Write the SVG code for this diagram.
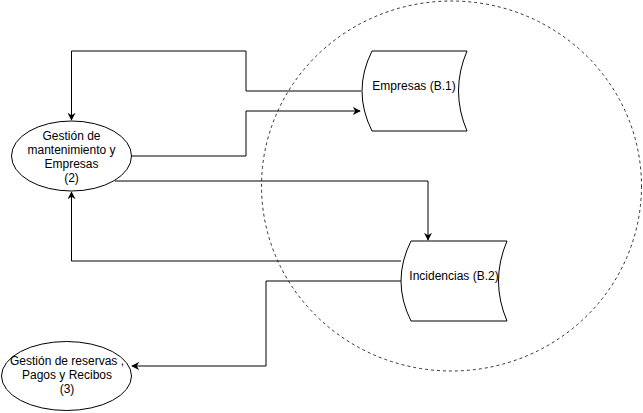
<svg xmlns="http://www.w3.org/2000/svg" width="643" height="413" viewBox="0 0 643 413">
  <style>
    .shape { fill: #ffffff; stroke: #000000; stroke-width: 1; }
    .edge { fill: none; stroke: #000000; stroke-width: 1; }
    .label { font-family: "Liberation Sans", Arial, Helvetica, sans-serif; font-size: 12px; fill: #000000; text-anchor: middle; }
  </style>
  <defs>
    <marker id="arrow" viewBox="0 0 10 10" refX="9" refY="5" markerWidth="8" markerHeight="8" markerUnits="userSpaceOnUse" orient="auto">
      <path d="M0,0 L10,5 L0,10 L3,5 Z" fill="#000000"/>
    </marker>
  </defs>
  <rect width="643" height="413" fill="#ffffff"/>

  <!-- dashed boundary -->
  <g id="boundary">
    <ellipse cx="451.5" cy="186" rx="190" ry="185" fill="none" stroke="#000000" stroke-width="0.8" stroke-dasharray="3 3"/>
  </g>

  <!-- connectors -->
  <g id="connectors">
    <path class="edge" d="M361,91 H246 V51 H71.5 V120" marker-end="url(#arrow)"/>
    <path class="edge" d="M131.5,156 H246 V111 H360" marker-end="url(#arrow)"/>
    <path class="edge" d="M115,181 H428 V240" marker-end="url(#arrow)"/>
    <path class="edge" d="M401,261 H71.5 V192" marker-end="url(#arrow)"/>
    <path class="edge" d="M401,281 H266 V366 H132" marker-end="url(#arrow)"/>
  </g>

  <g id="gestion-mantenimiento">
    <ellipse class="shape" cx="71.5" cy="156" rx="60" ry="35"/>
    <text class="label" x="71.5" y="140">Gestión de</text>
    <text class="label" x="71.5" y="154">mantenimiento y</text>
    <text class="label" x="71.5" y="168">Empresas</text>
    <text class="label" x="71.5" y="182">(2)</text>
  </g>

  <g id="gestion-reservas">
    <ellipse class="shape" cx="66.5" cy="376" rx="65" ry="34.5"/>
    <text class="label" x="67" y="365">Gestión de reservas ,</text>
    <text class="label" x="67" y="379">Pagos y Recibos</text>
    <text class="label" x="67" y="393">(3)</text>
  </g>

  <g id="empresas">
    <path class="shape" d="M372,51 H467 Q450,91 467,131 H372 Q352,91 372,51 Z"/>
    <text class="label" x="414" y="90">Empresas (B.1)</text>
  </g>

  <g id="incidencias">
    <path class="shape" d="M411,241 H507 Q490,281 507,321 H411 Q391,281 411,241 Z"/>
    <text class="label" x="454" y="280">Incidencias (B.2)</text>
  </g>
</svg>
